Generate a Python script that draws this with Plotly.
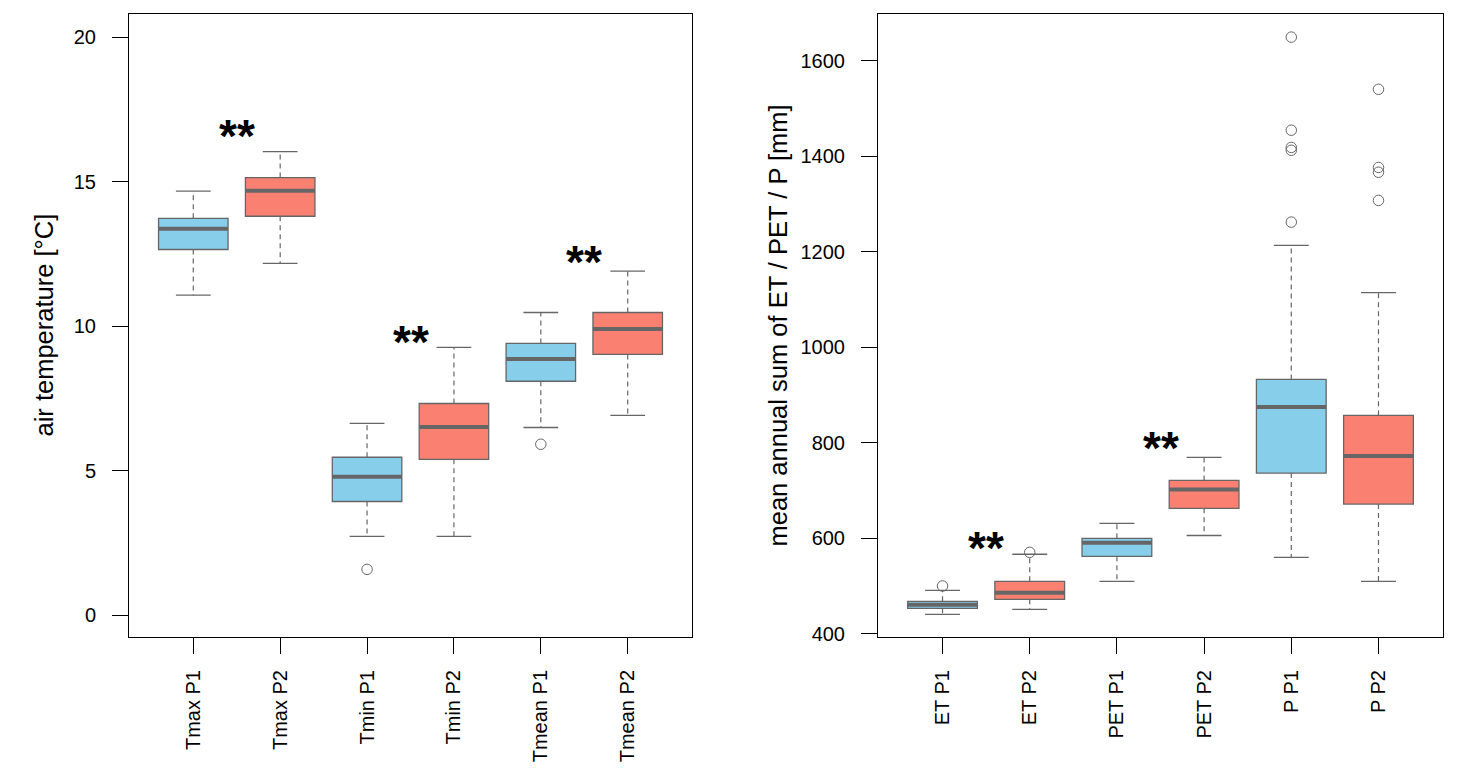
import plotly.graph_objects as go

# ---------------- data ----------------
left_cats = ["Tmax P1", "Tmax P2", "Tmin P1", "Tmin P2", "Tmean P1", "Tmean P2"]
left_q1 = [12.65, 13.80, 3.93, 5.39, 8.09, 9.02]
left_med = [13.37, 14.68, 4.79, 6.51, 8.86, 9.90]
left_q3 = [13.73, 15.14, 5.46, 7.32, 9.40, 10.47]
left_lo = [11.07, 12.17, 2.72, 2.72, 6.49, 6.91]
left_hi = [14.67, 16.04, 6.63, 9.26, 10.47, 11.90]
left_out_cat = ["Tmin P1", "Tmean P1"]
left_out_val = [1.58, 5.91]
left_sig_pos = [1.5, 3.5, 5.5]
left_sig_val = [16.78, 9.65, 12.44]
left_yticks = [0, 5, 10, 15, 20]

right_cats = ["ET P1", "ET P2", "PET P1", "PET P2", "P P1", "P P2"]
right_q1 = [453.8, 472.6, 562.7, 663.2, 737.0, 672.0]
right_med = [461.0, 486.5, 591.2, 702.4, 875.6, 773.0]
right_q3 = [468.5, 510.4, 600.4, 721.7, 933.2, 858.0]
right_lo = [441.2, 451.7, 510.4, 606.3, 560.6, 510.0]
right_hi = [491.5, 567.0, 631.8, 769.8, 1213.8, 1115.0]
right_out_cat = ["ET P1", "ET P2", "P P1", "P P1", "P P1", "P P1", "P P1",
                 "P P2", "P P2", "P P2", "P P2"]
right_out_val = [500.5, 571.0, 1650.0, 1455.0, 1419.0, 1413.0, 1262.6,
                 1540.7, 1377.0, 1367.0, 1308.0]
right_sig_pos = [1.5, 3.5]
right_sig_val = [592.7, 802.0]
right_yticks = [400, 600, 800, 1000, 1200, 1400, 1600]

# ---------------- styles ----------------
C_P1 = "#87CEEB"
C_P2 = "#FA8072"
BORDER = "#666666"
FONT = "Liberation Sans, Arial, sans-serif"
BOX_W = 0.8
CAP_W = 0.4

fig = go.Figure()


def add_panel(cats, q1, med, q3, lo, hi, out_cat, out_val, xa, ya):
    pos = list(range(1, len(cats) + 1))
    for k, color in ((0, C_P1), (1, C_P2)):
        idx = [i for i in range(len(cats)) if i % 2 == k]
        fig.add_trace(go.Box(
            x=[pos[i] for i in idx],
            q1=[q1[i] for i in idx], median=[med[i] for i in idx],
            q3=[q3[i] for i in idx],
            lowerfence=[q1[i] for i in idx], upperfence=[q3[i] for i in idx],
            width=BOX_W, whiskerwidth=0, fillcolor=color,
            line=dict(color=BORDER, width=1.3), boxpoints=False,
            hoverinfo="skip", showlegend=False, xaxis=xa, yaxis=ya))
    # dashed whiskers
    wx, wy = [], []
    for i, p in enumerate(pos):
        wx += [p, p, None, p, p, None]
        wy += [q3[i], hi[i], None, q1[i], lo[i], None]
    fig.add_trace(go.Scatter(x=wx, y=wy, mode="lines",
                             line=dict(color=BORDER, width=1.2, dash="5px,4px"),
                             hoverinfo="skip", showlegend=False, xaxis=xa, yaxis=ya))
    # caps
    cx, cy = [], []
    for i, p in enumerate(pos):
        cx += [p - CAP_W / 2, p + CAP_W / 2, None, p - CAP_W / 2, p + CAP_W / 2, None]
        cy += [hi[i], hi[i], None, lo[i], lo[i], None]
    fig.add_trace(go.Scatter(x=cx, y=cy, mode="lines",
                             line=dict(color=BORDER, width=1.3),
                             hoverinfo="skip", showlegend=False, xaxis=xa, yaxis=ya))
    # medians
    mx, my = [], []
    for i, p in enumerate(pos):
        mx += [p - BOX_W / 2, p + BOX_W / 2, None]
        my += [med[i], med[i], None]
    fig.add_trace(go.Scatter(x=mx, y=my, mode="lines",
                             line=dict(color=BORDER, width=4),
                             hoverinfo="skip", showlegend=False, xaxis=xa, yaxis=ya))
    # outliers
    ox = [pos[cats.index(c)] for c in out_cat]
    fig.add_trace(go.Scatter(x=ox, y=out_val, mode="markers",
                             marker=dict(symbol="circle-open", size=10.5,
                                         color=BORDER, line=dict(width=1, color=BORDER)),
                             hoverinfo="skip", showlegend=False, xaxis=xa, yaxis=ya))
    return pos


lpos = add_panel(left_cats, left_q1, left_med, left_q3, left_lo, left_hi,
                 left_out_cat, left_out_val, "x", "y")
rpos = add_panel(right_cats, right_q1, right_med, right_q3, right_lo, right_hi,
                 right_out_cat, right_out_val, "x2", "y2")

SIG_FONT = dict(family=FONT, size=46, color="black")
annotations = []
for p, v in zip(left_sig_pos, left_sig_val):
    annotations.append(dict(x=p, y=v, xref="x", yref="y", text="<b>**</b>",
                            showarrow=False, yshift=-6, font=SIG_FONT))
for p, v in zip(right_sig_pos, right_sig_val):
    annotations.append(dict(x=p, y=v, xref="x2", yref="y2", text="<b>**</b>",
                            showarrow=False, yshift=-6, font=SIG_FONT))

# the page body has an 8px margin: figure sits at (8, 8) in the window
OFF = 8
W, H = 1441, 757


def px(x):
    return (x - OFF) / W


def py(y):
    return (H - (y - OFF)) / H


ydom = [py(637), py(14)]
annotations.append(dict(x=px(27), y=(ydom[0] + ydom[1]) / 2, xref="paper", yref="paper",
                        text="air temperature [°C]", textangle=-90, showarrow=False,
                        font=dict(family=FONT, size=25.5, color="black")))
annotations.append(dict(x=px(777), y=(ydom[0] + ydom[1]) / 2, xref="paper", yref="paper",
                        text="mean annual sum of ET / PET / P [mm]", textangle=-90,
                        showarrow=False, font=dict(family=FONT, size=25.5, color="black")))

axis_common = dict(showline=True, mirror=True, linecolor="black", linewidth=1,
                   ticks="outside", ticklen=16, tickcolor="black", tickwidth=1,
                   showgrid=False, zeroline=False, automargin=False,
                   tickfont=dict(family=FONT, size=20, color="black"))

fig.update_layout(
    width=W, height=H,
    margin=dict(l=0, r=0, t=0, b=0),
    paper_bgcolor="white", plot_bgcolor="white",
    boxmode="overlay", showlegend=False,
    annotations=annotations,
    xaxis=dict(domain=[px(129), px(692)], range=[0.26, 6.74], tickvals=lpos,
               ticktext=left_cats, tickangle=-90, ticklabelstandoff=8,
               anchor="y", **axis_common),
    yaxis=dict(domain=ydom, range=[-0.76, 20.8], tickvals=left_yticks,
               ticklabelstandoff=12, anchor="x", **axis_common),
    xaxis2=dict(domain=[px(878), px(1443)], range=[0.26, 6.74], tickvals=rpos,
                ticktext=right_cats, tickangle=-90, ticklabelstandoff=8,
                anchor="y2", **axis_common),
    yaxis2=dict(domain=ydom, range=[393.7, 1698.4], tickvals=right_yticks,
                ticklabelstandoff=12, anchor="x2", **axis_common),
)

fig.write_html("out.html")
